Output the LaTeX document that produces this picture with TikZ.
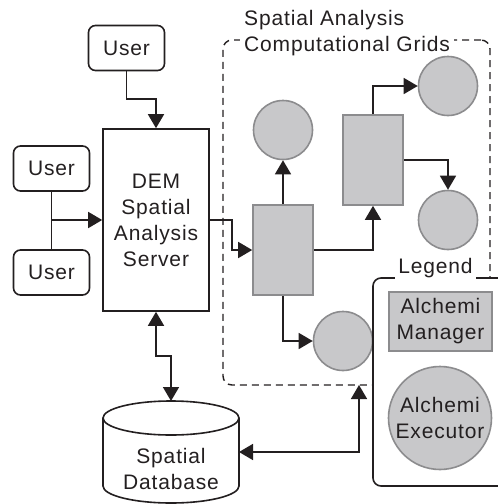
\documentclass[tikz,border=0pt]{standalone}
\usepackage{fontspec}
\setmainfont{Liberation Sans}[LetterSpace=4]
\usetikzlibrary{arrows.meta}
\definecolor{ink}{RGB}{35,31,32}
\definecolor{gfill}{RGB}{200,200,202}
\definecolor{gline}{RGB}{140,140,142}
\tikzset{
  txt/.style={font=\fontsize{21}{26}\selectfont, text=ink, align=center},
  userbox/.style={txt, draw=ink, line width=1.6pt, rounded corners=7pt, minimum width=76pt, minimum height=45pt, inner sep=0pt},
  serverbox/.style={txt, draw=ink, line width=1.6pt, minimum width=106pt, minimum height=182pt, inner sep=0pt},
  mgr/.style={txt, draw=gline, fill=gfill, line width=1.6pt, inner sep=0pt},
  exe/.style={txt, draw=gline, fill=gfill, line width=1.6pt, circle, inner sep=0pt},
  conn/.style={draw=ink, line width=1.6pt},
  arr/.style={conn, -{Triangle[length=14pt,width=16pt]}},
  darr/.style={conn, {Triangle[length=14pt,width=16pt]}-{Triangle[length=14pt,width=16pt]}},
}
\begin{document}
\begin{tikzpicture}[x=1pt,y=-1pt]
\useasboundingbox (0,0) rectangle (498,504);
\clip (0,0) rectangle (498,504);

% dashed grid region
\node[draw=ink, dashed, dash pattern=on 7pt off 5pt, line width=1.4pt, rounded corners=9pt,
      minimum width=267pt, minimum height=345pt, inner sep=0pt] (grid) at (356.5,212.5) {};
\node[txt, align=left, anchor=west, fill=white, inner sep=4pt] (gridlbl) at (240,33)
  {Spatial Analysis\\Computational Grids};

% users and server
\node[userbox] (u0) at (126.5,48) {User};
\node[userbox] (u1) at (51.5,168.5) {User};
\node[userbox] (u2) at (51.5,272.5) {User};
\node[serverbox] (srv) at (156,220) {DEM\\Spatial\\Analysis\\Server};

% managers and executors
\node[mgr, minimum width=60pt, minimum height=90pt] (m1) at (283,250) {};
\node[mgr, minimum width=60pt, minimum height=90pt] (m2) at (373,160) {};
\node[exe, minimum size=59pt] (c1) at (283,130) {};
\node[exe, minimum size=59pt] (c2) at (448,86) {};
\node[exe, minimum size=59pt] (c3) at (448,220) {};
\node[exe, minimum size=59pt] (c4) at (343,341) {};

% database
\coordinate (dbtop) at (171,401);
\coordinate (dbr) at (239,452);
\draw[ink, line width=1.6pt, fill=white] (103,418) -- (103,486)
  arc[start angle=180, end angle=0, x radius=68, y radius=17] -- (239,418);
\draw[ink, line width=1.6pt] (171,418) ellipse [x radius=68, y radius=17];
\node[txt] (db) at (171,469) {Spatial\\Database};

% legend
\node[draw=ink, fill=white, line width=1.6pt, rounded corners=8pt,
      minimum width=140pt, minimum height=208pt, inner sep=0pt] (leg) at (443,382) {};
\node[txt, fill=white, inner sep=3pt] (leglbl) at (435.5,268) {Legend};
\node[mgr, minimum width=103pt, minimum height=59pt] (lm) at (440.5,321.5) {Alchemi\\Manager};
\node[exe, minimum size=103pt] (le) at (440,418) {Alchemi\\Executor};

% connectors
\draw[arr] (u0.south) |- (156,99) -- (srv.north);
\draw[conn] (u1.south) -- (u2.north);
\draw[arr] (u1.south |- srv.west) -- (srv.west);
\draw[arr] (srv.east) -- (232,220) |- (m1.west);
\draw[arr] (m1.north) -- (c1.south);
\draw[arr] (m1.east) -| (m2.south);
\draw[arr] (m2.north) |- (c2.west);
\draw[arr] (m2.east) -| (c3.north);
\draw[arr] (m1.south) |- (c4.west);
\draw[darr] (srv.south) -- (156,356) -| (dbtop);
\coordinate (gb) at (359,385);
\draw[darr] (dbr) -| (gb);
\end{tikzpicture}
\end{document}
